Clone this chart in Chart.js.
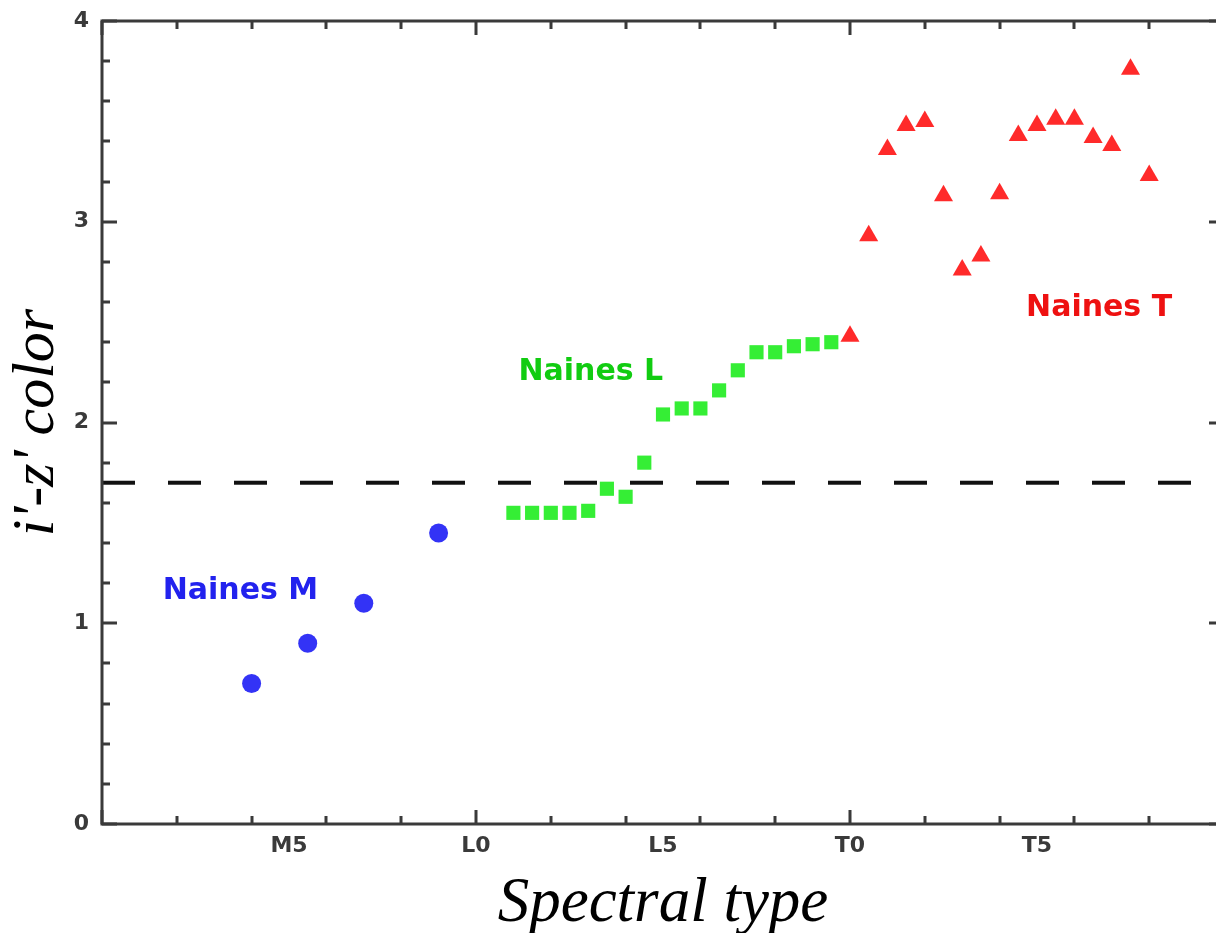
<!DOCTYPE html>
<html>
<head>
<meta charset="utf-8">
<script src="https://cdn.jsdelivr.net/npm/chart.js@4.4.0/dist/chart.umd.min.js"></script>
<style>
  html, body { margin: 0; padding: 0; background: #fff; overflow: hidden; }
</style>
</head>
<body>
<canvas id="colorChart" width="1230" height="933"></canvas>
<script>
// spectral type as a number: M0 = 0, L0 = 10, T0 = 20
var typeTicks = [5, 10, 15, 20, 25];
var typeNames = ["M5", "L0", "L5", "T0", "T5"];

// M dwarfs
var mTypes = [4, 5.5, 7, 9];
var mColors = [0.70, 0.90, 1.10, 1.45];

// L dwarfs
var lTypes = [11, 11.5, 12, 12.5, 13, 13.5, 14, 14.5, 15, 15.5, 16, 16.5, 17, 17.5, 18, 18.5, 19, 19.5];
var lColors = [1.55, 1.55, 1.55, 1.55, 1.56, 1.67, 1.63, 1.80, 2.04, 2.07, 2.07, 2.16, 2.26, 2.35, 2.35, 2.38, 2.39, 2.40];

// T dwarfs
var tTypes = [20, 20.5, 21, 21.5, 22, 22.5, 23, 23.5, 24, 24.5, 25, 25.5, 26, 26.5, 27, 27.5, 28];
var tColors = [2.43, 2.93, 3.36, 3.48, 3.50, 3.13, 2.76, 2.83, 3.14, 3.43, 3.48, 3.51, 3.51, 3.42, 3.38, 3.76, 3.23];

// i'-z' cut
var cutColor = 1.7;

var groupNames = ["Naines M", "Naines L", "Naines T"];

function pairs(xs, ys) {
    return xs.map(function (x, i) { return {x: x, y: ys[i]}; });
}

// frame with inward ticks on all four sides
var frameTicks = {
    id: 'frameTicks',
    afterDraw: function (chart) {
        var ctx = chart.ctx, a = chart.chartArea;
        var sx = chart.scales.x, sy = chart.scales.y;
        ctx.save();
        ctx.strokeStyle = '#3a3a3a';
        ctx.lineWidth = 3;
        ctx.beginPath();
        for (var i = 0; i <= 15; i++) {
            var px = Math.round(sx.getPixelForValue(i * 2));
            var len = (i % 5 === 0) ? 14 : 8;
            ctx.moveTo(px, a.bottom); ctx.lineTo(px, a.bottom - len);
            ctx.moveTo(px, a.top); ctx.lineTo(px, a.top + len);
        }
        for (var j = 0; j <= 20; j++) {
            var py = Math.round(sy.getPixelForValue(j / 5));
            var l2 = (j % 5 === 0) ? 15 : 8;
            ctx.moveTo(a.left, py); ctx.lineTo(a.left + l2, py);
            ctx.moveTo(a.right, py); ctx.lineTo(a.right - l2, py);
        }
        ctx.stroke();
        ctx.strokeRect(a.left, a.top, a.right - a.left, a.bottom - a.top);
        ctx.restore();
    }
};

// group names written next to each family
var groupLabels = {
    id: 'groupLabels',
    afterDatasetsDraw: function (chart) {
        var ctx = chart.ctx, sx = chart.scales.x, sy = chart.scales.y;
        var spots = [[3.7, 1.16, '#2222ee'], [13.07, 2.25, '#11cc11'], [26.66, 2.57, '#ee1111']];
        ctx.save();
        ctx.font = 'bold 30px "DejaVu Sans"';
        ctx.textAlign = 'center';
        ctx.textBaseline = 'middle';
        groupNames.forEach(function (name, k) {
            ctx.fillStyle = spots[k][2];
            ctx.fillText(name, sx.getPixelForValue(spots[k][0]), sy.getPixelForValue(spots[k][1]));
        });
        ctx.restore();
    }
};

var colorChart = document.getElementById("colorChart").getContext('2d');
var myColorChart = new Chart(colorChart, {
    type: 'scatter',
    data: {
        datasets: [{
            data: pairs(mTypes, mColors),
            pointStyle: 'circle',
            pointRadius: 9.5,
            backgroundColor: '#3333f6',
            borderWidth: 0
        },
        {
            data: pairs(lTypes, lColors),
            pointStyle: 'rect',
            pointRadius: 10,
            backgroundColor: '#35ee35',
            borderWidth: 0
        },
        {
            data: pairs(tTypes, tColors),
            pointStyle: 'triangle',
            pointRadius: 11,
            backgroundColor: '#ff2a2a',
            borderWidth: 0
        },
        {
            data: [{x: 0, y: cutColor}, {x: 30, y: cutColor}],
            showLine: true,
            borderColor: '#111',
            borderWidth: 4,
            borderDash: [33, 33],
            pointRadius: 0
        }]
    },
    options: {
        responsive: false,
        animation: false,
        layout: {autoPadding: false, padding: {top: 21, right: 6, bottom: 0, left: 0}},
        plugins: {legend: {display: false}, tooltip: {enabled: false}},
        scales: {
            x: {
                type: 'linear', min: 0, max: 30,
                afterBuildTicks: function (scale) {
                    scale.ticks = typeTicks.map(function (v) { return {value: v}; });
                },
                afterFit: function (scale) { scale.height = 109; },
                ticks: {
                    callback: function (v, i) { return typeNames[i]; },
                    font: {family: 'DejaVu Sans', weight: 'bold', size: 22},
                    color: '#3a3a3a', padding: 9,
                    maxRotation: 0, autoSkip: false
                },
                grid: {display: false, drawTicks: false},
                border: {display: false},
                title: {
                    display: true, text: 'Spectral type', color: '#000', padding: 0,
                    font: {family: 'Liberation Serif', style: 'italic', size: 63, lineHeight: 0.9}
                }
            },
            y: {
                min: 0, max: 4,
                afterFit: function (scale) { scale.width = 102; },
                ticks: {
                    stepSize: 1, color: '#3a3a3a', padding: 13,
                    font: {family: 'DejaVu Sans', weight: 'bold', size: 22, lineHeight: 0.6}
                },
                grid: {display: false, drawTicks: false},
                border: {display: false},
                title: {
                    display: true, text: "i'-z' color", color: '#000', padding: {top: 4},
                    font: {family: 'Liberation Serif', style: 'italic', size: 60, lineHeight: 1.1}
                }
            }
        }
    },
    plugins: [frameTicks, groupLabels]
});
</script>
</body>
</html>
